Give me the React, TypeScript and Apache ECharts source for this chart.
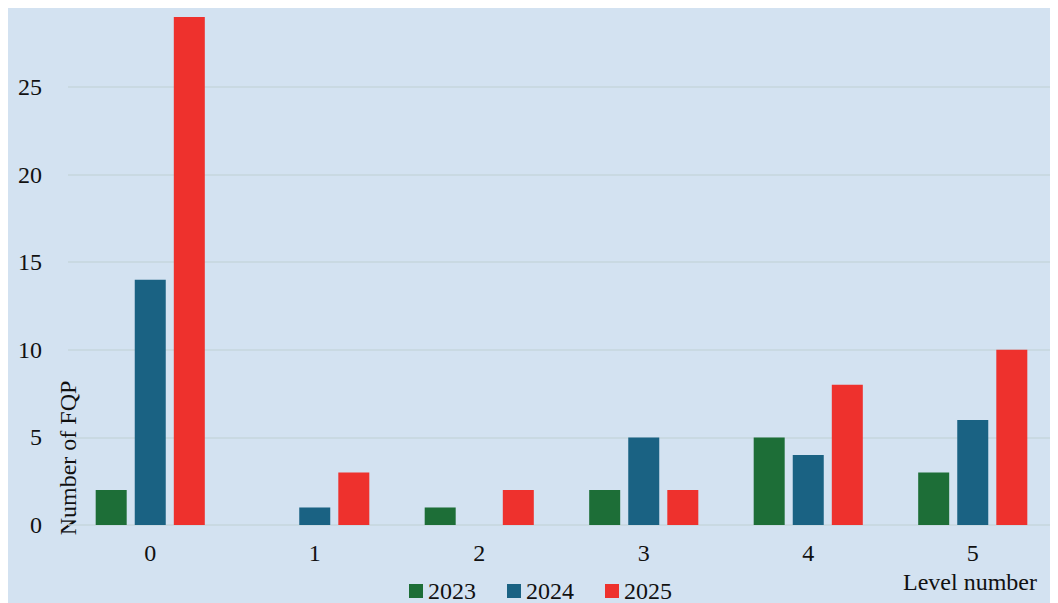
import React, { useEffect, useRef } from "react";
import * as echarts from "echarts";

const categories = ["0", "1", "2", "3", "4", "5"];
const values2023 = [2, 0, 1, 2, 5, 3];
const values2024 = [14, 1, 0, 5, 4, 6];
const values2025 = [29, 3, 2, 2, 8, 10];
const seriesNames = ["2023", "2024", "2025"];
const yAxisTitle = "Number of FQP";
const xAxisTitle = "Level number";

const FONT = "Liberation Serif";
const COLORS = ["#1d6e37", "#1a6283", "#ee312d"];
const GRID_COLOR = "#c6d6dc";

export default function App() {
  const ref = useRef<HTMLDivElement>(null);
  useEffect(() => {
    if (!ref.current) return;
    const chart = echarts.init(ref.current, undefined, { renderer: "svg" });
    const data = [values2023, values2024, values2025];
    chart.setOption({
      animation: false,
      backgroundColor: "#d3e2f1",
      textStyle: { fontFamily: FONT },
      grid: { left: 60, right: 3, top: 9, bottom: 78, containLabel: false },
      legend: {
        data: seriesNames,
        left: 401,
        top: 571,
        padding: 0,
        itemWidth: 14,
        itemHeight: 14,
        itemGap: 31,
        icon: "rect",
        textStyle: { fontFamily: FONT, fontSize: 24, color: "#111" },
      },
      xAxis: {
        type: "category",
        data: categories,
        axisLine: { show: false },
        axisTick: { show: false },
        axisLabel: { fontFamily: FONT, fontSize: 24, color: "#111", margin: 16 },
      },
      yAxis: {
        type: "value",
        min: 0,
        max: 29,
        interval: 5,
        axisLine: { show: false },
        axisTick: { show: false },
        axisLabel: { fontFamily: FONT, fontSize: 24, color: "#111", margin: 26, showMaxLabel: false },
        splitLine: { show: true, showMaxLine: false, lineStyle: { color: GRID_COLOR, width: 1.5 } },
      },
      graphic: [
        {
          type: "text",
          x: 60,
          y: 450,
          rotation: Math.PI / 2,
          style: {
            text: yAxisTitle,
            fontFamily: FONT,
            fontSize: 24,
            fill: "#111",
            textAlign: "center",
            textVerticalAlign: "middle",
          },
        },
        {
          type: "text",
          x: 962,
          y: 574,
          style: {
            text: xAxisTitle,
            fontFamily: FONT,
            fontSize: 24,
            fill: "#111",
            textAlign: "center",
            textVerticalAlign: "middle",
          },
        },
      ],
      series: seriesNames.map((name, i) => ({
        name,
        type: "bar",
        data: data[i],
        barWidth: 31,
        barGap: "26%",
        itemStyle: { color: COLORS[i] },
      })),
    });
    return () => chart.dispose();
  }, []);
  return <div ref={ref} style={{ width: 1050, height: 595 }} />;
}
